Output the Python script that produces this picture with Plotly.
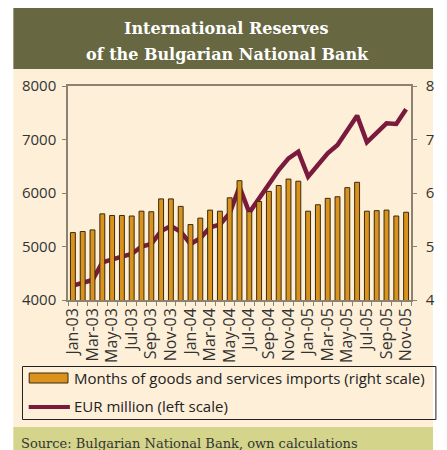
import plotly.graph_objects as go

months = ["Jan-03","Feb-03","Mar-03","Apr-03","May-03","Jun-03","Jul-03","Aug-03","Sep-03","Oct-03","Nov-03","Dec-03",
          "Jan-04","Feb-04","Mar-04","Apr-04","May-04","Jun-04","Jul-04","Aug-04","Sep-04","Oct-04","Nov-04","Dec-04",
          "Jan-05","Feb-05","Mar-05","Apr-05","May-05","Jun-05","Jul-05","Aug-05","Sep-05","Oct-05","Nov-05"]
import_months = [5.26,5.28,5.31,5.61,5.58,5.58,5.57,5.66,5.65,5.89,5.89,5.75,
                 5.41,5.53,5.68,5.66,5.91,6.23,5.65,5.84,6.03,6.14,6.26,6.22,
                 5.66,5.78,5.90,5.93,6.10,6.20,5.66,5.67,5.68,5.57,5.64]
eur_million = [4268,4312,4374,4704,4748,4810,4860,5000,5047,5290,5383,5277,
               5047,5153,5358,5410,5620,6118,5633,5900,6180,6430,6648,6773,
               6305,6523,6742,6897,7178,7446,6947,7116,7302,7290,7564]
tick_text = [m if i % 2 == 0 else "" for i, m in enumerate(months)]

W, H = 447, 450
L, R, T, B = 68, 426, 86, 300

def px(x):
    return (x - L) / (R - L)

def py(y):
    return (B - y) / (B - T)

CREAM = "#FDEFD8"
OLIVE = "#676841"
KHAKI = "#D4D58A"
ORANGE = "#D9921C"
MAROON = "#7A1A3C"
AXIS = "#8C8272"
TXT = "#333333"

fig = go.Figure()
fig.add_trace(go.Bar(x=months, y=import_months, yaxis="y2", name="Months of goods and services imports (right scale)",
                     marker=dict(color=ORANGE, line=dict(color="#3A2A12", width=1)), showlegend=False))
fig.add_trace(go.Scatter(x=months, y=eur_million, mode="lines", name="EUR million (left scale)",
                         line=dict(color=MAROON, width=4.5), showlegend=False))

shapes = [
    dict(type="rect", xref="paper", yref="paper", x0=px(11), x1=px(W + 2), y0=py(8), y1=py(H + 2),
         fillcolor=CREAM, line=dict(width=0), layer="below"),
    dict(type="rect", xref="paper", yref="paper", x0=px(11), x1=px(W + 2), y0=py(8), y1=py(69),
         fillcolor=OLIVE, line=dict(width=0), layer="below"),
    dict(type="rect", xref="paper", yref="paper", x0=px(11), x1=px(W + 2), y0=py(427), y1=py(H + 2),
         fillcolor=KHAKI, line=dict(width=0), layer="below"),
    # legend box
    dict(type="rect", xref="paper", yref="paper", x0=px(20.5), x1=px(W + 5), y0=py(366.5), y1=py(419.5),
         fillcolor="rgba(0,0,0,0)", line=dict(color="#222222", width=1)),
    dict(type="rect", xref="paper", yref="paper", x0=px(27.5), x1=px(68), y0=py(373), y1=py(383),
         fillcolor=ORANGE, line=dict(color="#3A2A12", width=1)),
    dict(type="line", xref="paper", yref="paper", x0=px(27), x1=px(70), y0=py(407), y1=py(407),
         line=dict(color=MAROON, width=4)),
]

annotations = [
    dict(text="<b>International Reserves</b>", xref="paper", yref="paper", x=px(233), y=py(29),
         xanchor="center", yanchor="middle", showarrow=False,
         font=dict(family="DejaVu Serif", size=16, color="white")),
    dict(text="<b>of the Bulgarian National Bank</b>", xref="paper", yref="paper", x=px(234), y=py(54),
         xanchor="center", yanchor="middle", showarrow=False,
         font=dict(family="DejaVu Serif", size=16, color="white")),
    dict(text="Months of goods and services imports (right scale)", xref="paper", yref="paper",
         x=px(72), y=py(378), xanchor="left", yanchor="middle", showarrow=False,
         font=dict(family="Open Sans", size=15, color="#222222")),
    dict(text="EUR million (left scale)", xref="paper", yref="paper",
         x=px(72), y=py(406), xanchor="left", yanchor="middle", showarrow=False,
         font=dict(family="Open Sans", size=15, color="#222222")),
    dict(text="Source: Bulgarian National Bank, own calculations", xref="paper", yref="paper",
         x=px(17), y=py(443), xanchor="left", yanchor="middle", showarrow=False,
         font=dict(family="DejaVu Serif", size=13, color="#333333")),
]

fig.update_layout(
    width=W, height=H,
    margin=dict(l=L, r=W - R, t=T, b=H - B, pad=0),
    paper_bgcolor="white", plot_bgcolor=CREAM,
    bargap=0.5, showlegend=False,
    shapes=shapes, annotations=annotations,
    xaxis=dict(type="category", tickmode="array", tickvals=months, ticktext=tick_text,
               tickangle=-90, tickson="boundaries", ticks="outside", ticklen=4, tickcolor=AXIS,
               showline=True, linecolor=AXIS, linewidth=1.5, mirror=True, showgrid=False,
               tickfont=dict(family="Open Sans", size=16, color=TXT), range=[-0.5, 34.5]),
    yaxis=dict(range=[4000, 8000], dtick=1000, ticks="outside", ticklen=4, tickcolor=AXIS,
               showline=True, linecolor=AXIS, linewidth=1.5, showgrid=False, zeroline=False,
               ticklabelstandoff=3,
               tickfont=dict(family="Open Sans", size=15, color=TXT)),
    yaxis2=dict(range=[4, 8], dtick=1, overlaying="y", side="right", ticks="outside", ticklen=4,
                tickcolor=AXIS, showline=True, linecolor=AXIS, linewidth=1.5, showgrid=False,
                zeroline=False, ticklabelstandoff=6,
                tickfont=dict(family="Open Sans", size=15, color=TXT)),
)

fig.write_html("out.html")
